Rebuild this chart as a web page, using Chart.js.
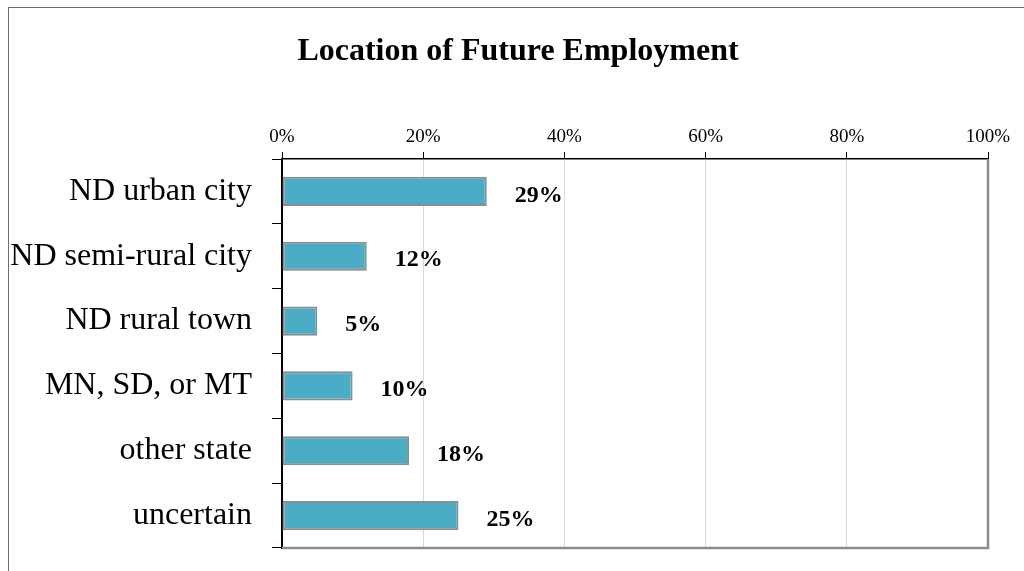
<!DOCTYPE html>
<html>
<head>
<meta charset="utf-8">
<script src="https://cdn.jsdelivr.net/npm/chart.js@4/dist/chart.umd.min.js"></script>
<style>
  html, body { margin: 0; padding: 0; background: #fff; overflow: hidden; }
  #wrap { position: relative; width: 1024px; height: 571px; }
  #frame { position: absolute; left: 8px; top: 7px; width: 1100px; height: 700px; border: 1px solid #6e6e6e; }
  canvas { position: absolute; left: 0; top: 0; }
</style>
</head>
<body>
<div id="wrap">
  <div id="frame"></div>
  <canvas id="grafico" width="1024" height="571"></canvas>
</div>
<script>
// ============================================================
// DADOS
// ============================================================
const categorias = ['ND urban city', 'ND semi-rural city', 'ND rural town', 'MN, SD, or MT', 'other state', 'uncertain'];
const valores = [29, 12, 5, 10, 18, 25];
const ticksX = [0, 20, 40, 60, 80, 100];
const titulo = 'Location of Future Employment';

const SERIF = '"Liberation Serif", "Times New Roman", serif';

// Título (centralizado como no original, levemente à direita)
const tituloPlugin = {
    id: 'tituloFixo',
    afterDraw(chart) {
        const ctx = chart.ctx;
        ctx.save();
        ctx.font = 'bold 32px ' + SERIF;
        ctx.fillStyle = '#000';
        ctx.textAlign = 'center';
        ctx.textBaseline = 'middle';
        ctx.fillText(titulo, 518, 52);
        ctx.restore();
    }
};

// Rótulos de valor à direita das barras
const rotulosPlugin = {
    id: 'rotulos',
    afterDatasetsDraw(chart) {
        const ctx = chart.ctx;
        const meta = chart.getDatasetMeta(0);
        ctx.save();
        ctx.font = 'bold 24px ' + SERIF;
        ctx.fillStyle = '#000';
        ctx.textAlign = 'left';
        ctx.textBaseline = 'middle';
        meta.data.forEach((bar, i) => {
            ctx.fillText(valores[i] + '%', bar.x + 28, bar.y + 4);
        });
        ctx.restore();
    }
};

// Bordas direita/inferior da área do gráfico (cinza)
const bordaPlugin = {
    id: 'borda',
    afterDraw(chart) {
        const { left, right, top, bottom } = chart.chartArea;
        const ctx = chart.ctx;
        ctx.save();
        ctx.strokeStyle = '#8c8c8c';
        ctx.lineWidth = 2.5;
        ctx.beginPath();
        ctx.moveTo(right, top);
        ctx.lineTo(right, bottom);
        ctx.lineTo(left, bottom);
        ctx.stroke();
        ctx.restore();
    }
};

new Chart(document.getElementById('grafico'), {
    type: 'bar',
    data: {
        labels: categorias,
        datasets: [{
            data: valores,
            backgroundColor: '#4BACC6',
            borderColor: '#8c8c8c',
            borderWidth: 2,
            borderSkipped: false,
            barPercentage: 0.45,
            categoryPercentage: 1
        }]
    },
    options: {
        indexAxis: 'y',
        responsive: false,
        animation: false,
        layout: { padding: { left: 8, right: 36, top: 0, bottom: 23 } },
        plugins: {
            legend: { display: false },
            tooltip: { enabled: false },
            title: { display: false }
        },
        scales: {
            x: {
                position: 'top',
                min: 0,
                max: 100,
                afterBuildTicks: s => { s.ticks = ticksX.map(v => ({ value: v })); },
                afterFit: s => { s.height = 159; s.paddingLeft = 0; s.paddingRight = 0; },
                ticks: {
                    color: '#000',
                    font: { family: SERIF, size: 19 },
                    padding: 4,
                    callback: v => v + '%'
                },
                grid: { color: '#d9d9d9', lineWidth: 1, tickLength: 7, tickColor: '#000' },
                border: { display: true, color: '#000', width: 1.5 }
            },
            y: {
                afterFit: s => { s.width = 282 - 8; s.paddingTop = 0; s.paddingBottom = 0; },
                ticks: {
                    color: '#000',
                    font: { family: SERIF, size: 32 },
                    padding: 20
                },
                grid: { drawOnChartArea: false, drawTicks: true, tickLength: 10, tickColor: '#000', offset: true },
                border: { display: true, color: '#000', width: 2 }
            }
        }
    },
    plugins: [rotulosPlugin, bordaPlugin, tituloPlugin]
});
</script>
</body>
</html>
